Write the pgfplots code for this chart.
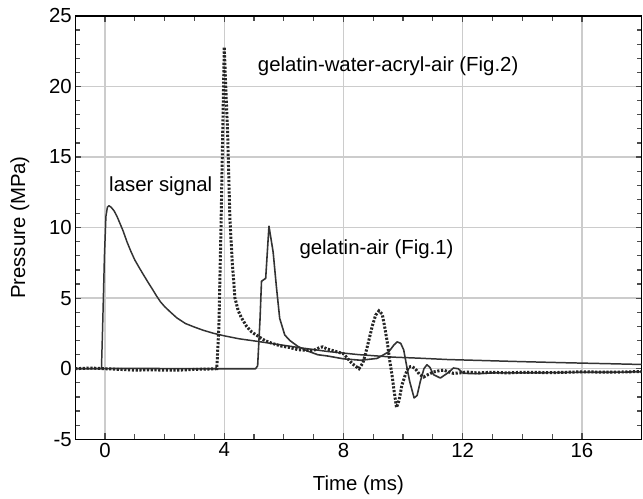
\documentclass[border=0pt]{standalone}
\usepackage{fontspec}
\setmainfont{Liberation Sans}
\usepackage{pgfplots}
\pgfplotsset{compat=1.18}
\usepackage{pgfplotstable}

\pgfplotstableread{
t p
-1 0
-0.12 0
-0.08 3
-0.02 8
0.03 10.8
0.08 11.45
0.13 11.55
0.2 11.45
0.3 11.2
0.4 10.8
0.5 10.3
0.6 9.8
0.74 8.97
0.87 8.3
1.0 7.7
1.15 7.15
1.3 6.62
1.45 6.1
1.6 5.6
1.73 5.15
1.86 4.74
2.0 4.4
2.2 4.0
2.41 3.6
2.7 3.2
3.0 2.95
3.3 2.72
3.64 2.51
4.0 2.33
4.5 2.12
5.14 1.93
5.8 1.72
6.5 1.5
7.47 1.22
8.5 1.0
9.67 0.82
10.5 0.75
11.5 0.65
12.5 0.59
14 0.5
15.5 0.42
17 0.35
18 0.3
}\laser

\pgfplotstableread{
t p
-1 0
1 0.02
3 0
5.05 0
5.12 0.2
5.2 3.5
5.25 6.2
5.39 6.4
5.5 10.1
5.64 8.27
5.75 5.8
5.86 3.57
6.03 2.39
6.2 2.0
6.47 1.58
6.8 1.25
7.14 0.99
7.47 0.9
8.0 0.7
8.58 0.6
9.13 0.73
9.52 1.2
9.7 1.7
9.8 1.9
9.92 1.8
10.02 1.34
10.12 0.2
10.22 -0.89
10.37 -2.07
10.47 -1.9
10.58 -0.89
10.7 0.0
10.8 0.28
10.9 0.1
11.02 -0.42
11.25 -0.66
11.5 -0.3
11.69 0.05
11.85 0.0
12.02 -0.33
12.5 -0.35
13 -0.3
14 -0.3
15 -0.28
16 -0.25
17 -0.25
18 -0.22
}\gelair

\pgfplotstableread{
t p
-1 0
-0.5 0.05
0 0
0.5 -0.05
1 -0.1
1.5 -0.08
2 -0.1
2.5 -0.1
3 -0.05
3.5 -0.02
3.75 0
3.82 3
3.89 9.9
3.95 16.9
4.0 22.8
4.05 20
4.11 16.9
4.19 10.6
4.27 7.5
4.36 5.0
4.47 4.1
4.58 3.6
4.75 3.0
4.92 2.6
5.1 2.35
5.36 2.0
5.6 1.8
5.92 1.6
6.2 1.5
6.47 1.35
6.8 1.3
7.0 1.3
7.2 1.5
7.3 1.55
7.45 1.4
7.7 1.25
8.0 1.06
8.15 0.7
8.3 0.35
8.52 0.0
8.65 0.4
8.74 1.06
8.85 2.0
8.97 3.05
9.08 3.8
9.19 4.1
9.3 3.87
9.38 3.0
9.47 1.88
9.55 0.6
9.63 -0.47
9.7 -1.6
9.78 -2.75
9.87 -2.2
9.96 -1.17
10.08 -0.4
10.19 0.13
10.3 0.15
10.41 0.0
10.55 -0.4
10.69 -0.59
10.85 -0.4
11.02 -0.23
11.2 -0.15
11.36 -0.1
11.5 -0.2
11.69 -0.33
11.9 -0.3
12.13 -0.23
12.5 -0.3
13 -0.25
13.5 -0.3
14 -0.25
15 -0.28
16 -0.22
17 -0.25
18 -0.2
}\gelwater

\begin{document}
\begin{tikzpicture}
\begin{axis}[
  scale only axis,
  width=569.8pt, height=426pt,
  xmin=-1, xmax=18, ymin=-5, ymax=25,
  xtick={0,4,8,12,16},
  ytick={-5,0,5,10,15,20,25},
  minor x tick num=3,
  minor y tick num=4,
  tick align=inside,
  major tick length=6pt,
  minor tick length=5pt,
  every tick/.style={black!70, line width=1.2pt},
  grid=major,
  major grid style={gray!40, line width=1.5pt},
  axis line style={black, line width=1.3pt},
  /pgf/number format/assume math mode=true,
  ticklabel style={font=\fontsize{20.5}{24}\selectfont},
  xlabel={Time (ms)},
  xlabel style={font=\fontsize{20.5}{24}\selectfont, at={(axis description cs:0.5,0)}, anchor=base, yshift=-51.3pt},
  clip=false,
]
\addplot[black!80, line width=1.5pt, line join=round] table[x=t,y=p] {\laser};
\addplot[black!80, line width=1.6pt, line join=round] table[x=t,y=p] {\gelair};
\addplot[black!85, line width=3pt, dash pattern=on 2.2pt off 1.6pt] table[x=t,y=p] {\gelwater};
\node[font=\fontsize{20.5}{24}\selectfont] at (axis cs:1.87,12.96) {laser signal};
\node[font=\fontsize{20.5}{24}\selectfont] at (axis cs:9.5,21.4) {gelatin-water-acryl-air (Fig.2)};
\node[font=\fontsize{20.5}{24}\selectfont] at (axis cs:9.11,8.5) {gelatin-air (Fig.1)};
\node[font=\fontsize{20.5}{24}\selectfont, rotate=90, anchor=center] at (axis description cs:-0.0978,0.5) {Pressure (MPa)};
\end{axis}
\path (current axis.south west) ++(-75.7pt,-59.3pt);
\path (current axis.north west) ++(0,16pt);
\end{tikzpicture}
\end{document}
